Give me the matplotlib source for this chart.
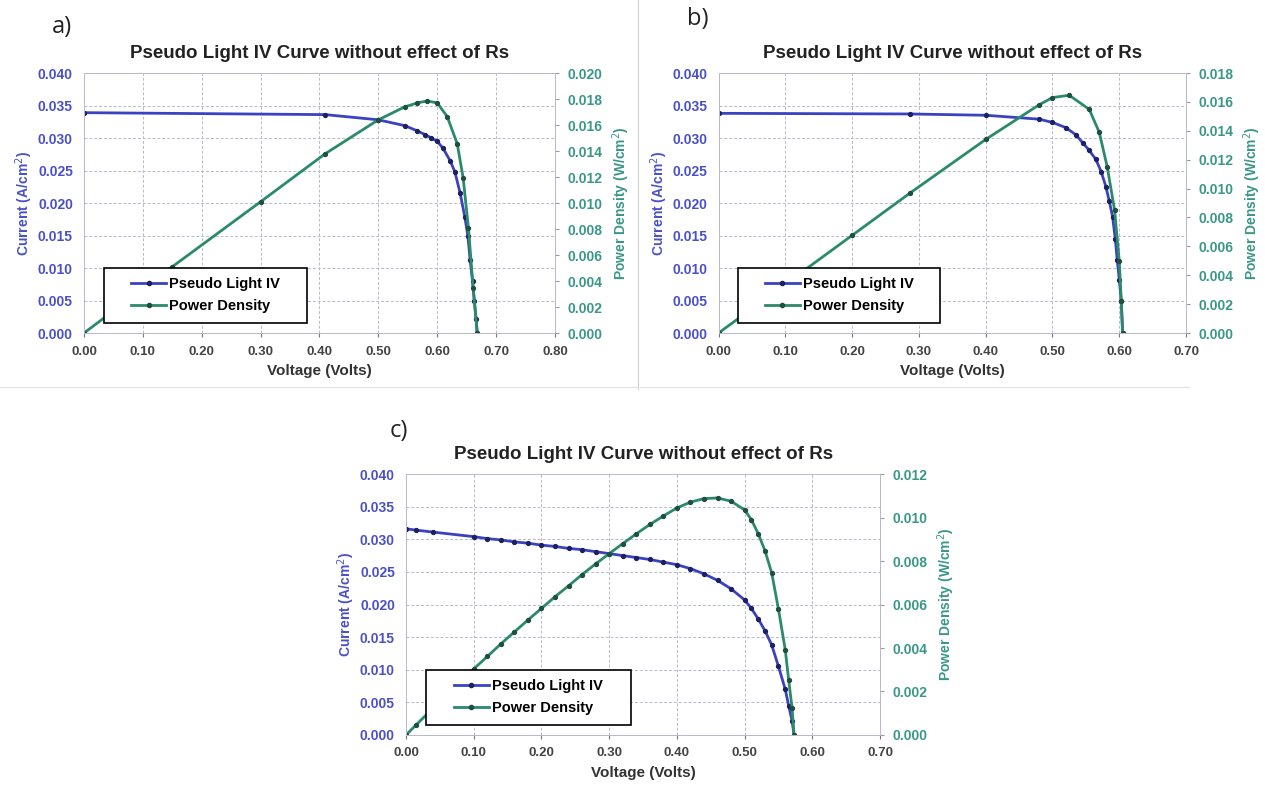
import matplotlib.pyplot as plt
from matplotlib.lines import Line2D
from matplotlib.patches import Rectangle

# panel a
va_iv = [0.00, 0.41, 0.50, 0.545, 0.566, 0.58, 0.59, 0.60, 0.61, 0.622, 0.63, 0.639,
         0.647, 0.652, 0.656, 0.660, 0.663, 0.666, 0.668]
ja = [0.0339, 0.0336, 0.0328, 0.0319, 0.0311, 0.0305, 0.0300, 0.0295, 0.0284, 0.0265,
      0.0248, 0.0215, 0.0178, 0.0150, 0.0112, 0.0080, 0.0050, 0.0022, 0.0000]
va_p = [0.00, 0.15, 0.30, 0.41, 0.50, 0.545, 0.566, 0.583, 0.60, 0.617, 0.634, 0.644,
        0.653, 0.661, 0.668]
pa = [0.0000, 0.0051, 0.0101, 0.0138, 0.0164, 0.0174, 0.0177, 0.01785, 0.0177, 0.01665,
      0.01456, 0.01195, 0.0081, 0.0035, 0.0000]

# panel b
vb_iv = [0.00, 0.287, 0.40, 0.48, 0.50, 0.52, 0.535, 0.545, 0.555, 0.565, 0.573, 0.58,
         0.585, 0.59, 0.594, 0.597, 0.600, 0.603, 0.605]
jb = [0.0338, 0.0337, 0.0335, 0.0329, 0.0324, 0.0316, 0.0305, 0.0293, 0.0281, 0.0267,
      0.0248, 0.0225, 0.0203, 0.0179, 0.0145, 0.0112, 0.0082, 0.0050, 0.0000]
vb_p = [0.00, 0.10, 0.20, 0.287, 0.40, 0.48, 0.50, 0.525, 0.555, 0.570, 0.582, 0.593,
        0.600, 0.603, 0.605]
pb = [0.0000, 0.00338, 0.00676, 0.0097, 0.0134, 0.0158, 0.0163, 0.01646, 0.01549, 0.0139,
      0.0115, 0.0085, 0.0050, 0.0022, 0.0000]

# panel c
vc = [0.000, 0.015, 0.040, 0.10, 0.12, 0.14, 0.16, 0.18, 0.20, 0.22, 0.24, 0.26, 0.28,
      0.30, 0.32, 0.34, 0.36, 0.38, 0.40, 0.42, 0.44, 0.46, 0.48, 0.50, 0.51, 0.52, 0.53,
      0.54, 0.55, 0.56, 0.565, 0.57, 0.573]
jc = [0.0316, 0.0314, 0.0311, 0.0304, 0.0301, 0.0299, 0.0296, 0.0294, 0.0291, 0.0289,
      0.0286, 0.0284, 0.0281, 0.0278, 0.0275, 0.0272, 0.0269, 0.0265, 0.0261, 0.0255,
      0.0247, 0.0237, 0.0224, 0.0207, 0.0194, 0.0178, 0.0160, 0.0138, 0.0105, 0.0070,
      0.0045, 0.0022, 0.0000]
pc = [0.0000, 0.00047, 0.00124, 0.00304, 0.00361, 0.00419, 0.00474, 0.00529, 0.00582,
      0.00636, 0.00686, 0.00738, 0.00787, 0.00834, 0.0088, 0.00925, 0.00968, 0.01007,
      0.01044, 0.01071, 0.01087, 0.0109, 0.01075, 0.01035, 0.0099, 0.00926, 0.00848,
      0.00745, 0.00578, 0.00392, 0.00254, 0.00125, 0.0000]

title = 'Pseudo Light IV Curve without effect of Rs'
BLUE = '#3a42c2'
BLUE_MK = '#1d2160'
GREEN = '#2b8a6a'
GREEN_MK = '#1f4f40'
BLUE_TXT = '#4a50c8'
TEAL_TXT = '#3a9788'
GRID = '#b9b9cf'

plt.rcParams['font.family'] = ['Liberation Sans', 'DejaVu Sans']


def draw_panel(fig, rect, letter, letter_xy, v_iv, j, v_p, p, xmax, pmax):
    ax = fig.add_axes(rect)
    ax2 = ax.twinx()

    ax.plot(v_iv, j, '-', color=BLUE, lw=2, marker='o', ms=2.8,
            mfc=BLUE_MK, mec=BLUE_MK, label='Pseudo Light IV')
    ax2.plot(v_p, p, '-', color=GREEN, lw=2, marker='o', ms=2.8,
             mfc=GREEN_MK, mec=GREEN_MK, label='Power Density')

    ax.set_xlim(0, xmax)
    ax.set_ylim(0, 0.040)
    ax2.set_ylim(0, pmax)
    ax.set_xticks([i / 10 for i in range(int(round(xmax * 10)) + 1)])
    ax.set_yticks([i * 0.005 for i in range(9)])
    ax2.set_yticks([i * 0.002 for i in range(int(round(pmax / 0.002)) + 1)])
    ax.xaxis.set_major_formatter(lambda x, pos: f'{x:.2f}')
    ax.yaxis.set_major_formatter(lambda x, pos: f'{x:.3f}')
    ax2.yaxis.set_major_formatter(lambda x, pos: f'{x:.3f}')

    ax.grid(True, color=GRID, lw=0.7, ls=(0, (3, 2)))
    for a in (ax, ax2):
        for s in a.spines.values():
            s.set_color(GRID)
            s.set_linewidth(0.7)
    ax.tick_params(axis='x', colors='#777777', labelcolor='#444444', labelsize=9.5, length=3, pad=6)
    ax.tick_params(axis='y', colors=GRID, labelcolor=BLUE_TXT, labelsize=10, length=0, pad=8)
    ax2.tick_params(axis='y', colors='#999999', labelcolor=TEAL_TXT, labelsize=10, length=3, pad=6)
    for lab in ax.get_xticklabels() + ax.get_yticklabels() + ax2.get_yticklabels():
        lab.set_fontweight('bold')

    ax.set_xlabel('Voltage (Volts)', fontsize=11, fontweight='bold', color='#333333', labelpad=5)
    ax.set_ylabel('Current (A/cm$^2$)', fontsize=10, fontweight='bold', color=BLUE_TXT, labelpad=2)
    ax2.set_ylabel('Power Density (W/cm$^2$)', fontsize=10, fontweight='bold', color=TEAL_TXT, labelpad=6)
    ax.set_title(title, fontsize=13.5, fontweight='bold', color='#222222', pad=11)

    # legend box is wider than the entries, so draw its frame separately
    ax2.add_patch(Rectangle((0.042, 0.04), 0.432, 0.21, transform=ax2.transAxes,
                            facecolor='white', edgecolor='black', lw=1.2, zorder=4.5))
    h1, l1 = ax.get_legend_handles_labels()
    h2, l2 = ax2.get_legend_handles_labels()
    leg = ax2.legend(h1 + h2, l1 + l2, loc='center', bbox_to_anchor=(0.258, 0.145),
                     frameon=False, handlelength=2.4, handletextpad=0.2,
                     borderpad=0.55, labelspacing=0.55,
                     prop={'weight': 'bold', 'size': 10.5})
    leg.set_zorder(5)
    for lh in leg.get_lines():
        lh.set_markersize(3)

    fig.text(letter_xy[0], letter_xy[1], letter, fontsize=17, ha='left', va='center',
             family=['Open Sans', 'DejaVu Sans'], color='#222222')
    return ax


fig = plt.figure(figsize=(12.65, 7.86), dpi=100)
draw_panel(fig, [0.0664, 0.5763, 0.3723, 0.3308], 'a)', (0.041, 0.966),
           va_iv, ja, va_p, pa, 0.80, 0.020)
draw_panel(fig, [0.568, 0.5763, 0.3696, 0.3308], 'b)', (0.543, 0.976),
           vb_iv, jb, vb_p, pb, 0.70, 0.018)
draw_panel(fig, [0.321, 0.0649, 0.3747, 0.3320], 'c)', (0.308, 0.452),
           vc, jc, vc, pc, 0.70, 0.012)

# faint separators between the top panels
fig.add_artist(Line2D([0.504, 0.504], [0.505, 1.0], color='#d0d0d0', lw=0.8))
fig.add_artist(Line2D([0.0, 0.504], [0.507, 0.507], color='#e0e0e0', lw=0.8))
fig.add_artist(Line2D([0.506, 0.94], [0.507, 0.507], color='#e0e0e0', lw=0.8))

fig.savefig('out.png', dpi=100)
